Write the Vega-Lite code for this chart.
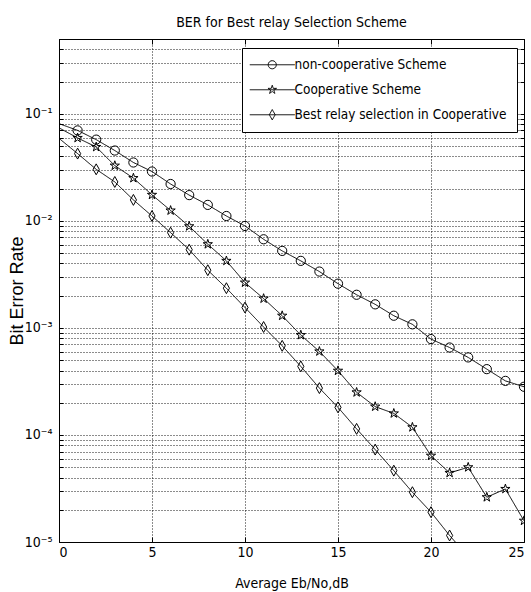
{
  "$schema": "https://vega.github.io/schema/vega-lite/v6.json",
  "width": 465,
  "height": 503,
  "autosize": {"type": "none"},
  "padding": {"left": 59, "top": 39, "right": 7, "bottom": 50},
  "background": "white",
  "title": {"text": "BER for Best relay Selection Scheme", "font": "DejaVu Sans Condensed, Liberation Sans", "fontSize": 14, "fontWeight": "normal", "color": "black", "baseline": "alphabetic", "offset": -2},
  "config": {
    "view": {"stroke": "black", "strokeWidth": 1},
    "axis": {"labelFont": "DejaVu Sans Condensed, Liberation Sans", "labelFontSize": 14, "labelColor": "black", "titleFont": "DejaVu Sans Condensed, Liberation Sans", "titleFontSize": 14, "titleFontWeight": "normal", "titleColor": "black", "domain": false, "tickColor": "black", "gridColor": "black", "gridDash": [1, 2], "gridOpacity": 0.9, "gridWidth": 1}
  },
  "data": {"values": [
    {"x": 0, "ber": 0.081, "scheme": "non-cooperative Scheme"},
    {"x": 1, "ber": 0.070, "scheme": "non-cooperative Scheme"},
    {"x": 2, "ber": 0.0574, "scheme": "non-cooperative Scheme"},
    {"x": 3, "ber": 0.0454, "scheme": "non-cooperative Scheme"},
    {"x": 4, "ber": 0.0351, "scheme": "non-cooperative Scheme"},
    {"x": 5, "ber": 0.0289, "scheme": "non-cooperative Scheme"},
    {"x": 6, "ber": 0.0221, "scheme": "non-cooperative Scheme"},
    {"x": 7, "ber": 0.0174, "scheme": "non-cooperative Scheme"},
    {"x": 8, "ber": 0.0141, "scheme": "non-cooperative Scheme"},
    {"x": 9, "ber": 0.0111, "scheme": "non-cooperative Scheme"},
    {"x": 10, "ber": 0.00896, "scheme": "non-cooperative Scheme"},
    {"x": 11, "ber": 0.00673, "scheme": "non-cooperative Scheme"},
    {"x": 12, "ber": 0.00524, "scheme": "non-cooperative Scheme"},
    {"x": 13, "ber": 0.00423, "scheme": "non-cooperative Scheme"},
    {"x": 14, "ber": 0.00336, "scheme": "non-cooperative Scheme"},
    {"x": 15, "ber": 0.00259, "scheme": "non-cooperative Scheme"},
    {"x": 16, "ber": 0.00204, "scheme": "non-cooperative Scheme"},
    {"x": 17, "ber": 0.00166, "scheme": "non-cooperative Scheme"},
    {"x": 18, "ber": 0.0013, "scheme": "non-cooperative Scheme"},
    {"x": 19, "ber": 0.00108, "scheme": "non-cooperative Scheme"},
    {"x": 20, "ber": 0.000786, "scheme": "non-cooperative Scheme"},
    {"x": 21, "ber": 0.000656, "scheme": "non-cooperative Scheme"},
    {"x": 22, "ber": 0.00053, "scheme": "non-cooperative Scheme"},
    {"x": 23, "ber": 0.000412, "scheme": "non-cooperative Scheme"},
    {"x": 24, "ber": 0.00032, "scheme": "non-cooperative Scheme"},
    {"x": 25, "ber": 0.000282, "scheme": "non-cooperative Scheme"},
    {"x": 0, "ber": 0.074, "scheme": "Cooperative Scheme"},
    {"x": 1, "ber": 0.0595, "scheme": "Cooperative Scheme"},
    {"x": 2, "ber": 0.049, "scheme": "Cooperative Scheme"},
    {"x": 3, "ber": 0.0328, "scheme": "Cooperative Scheme"},
    {"x": 4, "ber": 0.0251, "scheme": "Cooperative Scheme"},
    {"x": 5, "ber": 0.0175, "scheme": "Cooperative Scheme"},
    {"x": 6, "ber": 0.0125, "scheme": "Cooperative Scheme"},
    {"x": 7, "ber": 0.0089, "scheme": "Cooperative Scheme"},
    {"x": 8, "ber": 0.00605, "scheme": "Cooperative Scheme"},
    {"x": 9, "ber": 0.00423, "scheme": "Cooperative Scheme"},
    {"x": 10, "ber": 0.00265, "scheme": "Cooperative Scheme"},
    {"x": 11, "ber": 0.00188, "scheme": "Cooperative Scheme"},
    {"x": 12, "ber": 0.0013, "scheme": "Cooperative Scheme"},
    {"x": 13, "ber": 0.000857, "scheme": "Cooperative Scheme"},
    {"x": 14, "ber": 0.000603, "scheme": "Cooperative Scheme"},
    {"x": 15, "ber": 0.000398, "scheme": "Cooperative Scheme"},
    {"x": 16, "ber": 0.00025, "scheme": "Cooperative Scheme"},
    {"x": 17, "ber": 0.000184, "scheme": "Cooperative Scheme"},
    {"x": 18, "ber": 0.000159, "scheme": "Cooperative Scheme"},
    {"x": 19, "ber": 0.000118, "scheme": "Cooperative Scheme"},
    {"x": 20, "ber": 0.000064, "scheme": "Cooperative Scheme"},
    {"x": 21, "ber": 0.0000442, "scheme": "Cooperative Scheme"},
    {"x": 22, "ber": 0.0000499, "scheme": "Cooperative Scheme"},
    {"x": 23, "ber": 0.0000262, "scheme": "Cooperative Scheme"},
    {"x": 24, "ber": 0.0000313, "scheme": "Cooperative Scheme"},
    {"x": 25, "ber": 0.0000158, "scheme": "Cooperative Scheme"},
    {"x": 0, "ber": 0.059, "scheme": "Best relay selection in Cooperative"},
    {"x": 1, "ber": 0.0425, "scheme": "Best relay selection in Cooperative"},
    {"x": 2, "ber": 0.0303, "scheme": "Best relay selection in Cooperative"},
    {"x": 3, "ber": 0.0231, "scheme": "Best relay selection in Cooperative"},
    {"x": 4, "ber": 0.0157, "scheme": "Best relay selection in Cooperative"},
    {"x": 5, "ber": 0.0111, "scheme": "Best relay selection in Cooperative"},
    {"x": 6, "ber": 0.00776, "scheme": "Best relay selection in Cooperative"},
    {"x": 7, "ber": 0.00538, "scheme": "Best relay selection in Cooperative"},
    {"x": 8, "ber": 0.00346, "scheme": "Best relay selection in Cooperative"},
    {"x": 9, "ber": 0.00235, "scheme": "Best relay selection in Cooperative"},
    {"x": 10, "ber": 0.00155, "scheme": "Best relay selection in Cooperative"},
    {"x": 11, "ber": 0.00102, "scheme": "Best relay selection in Cooperative"},
    {"x": 12, "ber": 0.00068, "scheme": "Best relay selection in Cooperative"},
    {"x": 13, "ber": 0.000437, "scheme": "Best relay selection in Cooperative"},
    {"x": 14, "ber": 0.000274, "scheme": "Best relay selection in Cooperative"},
    {"x": 15, "ber": 0.000181, "scheme": "Best relay selection in Cooperative"},
    {"x": 16, "ber": 0.000114, "scheme": "Best relay selection in Cooperative"},
    {"x": 17, "ber": 0.000073, "scheme": "Best relay selection in Cooperative"},
    {"x": 18, "ber": 0.0000464, "scheme": "Best relay selection in Cooperative"},
    {"x": 19, "ber": 0.0000292, "scheme": "Best relay selection in Cooperative"},
    {"x": 20, "ber": 0.000019, "scheme": "Best relay selection in Cooperative"},
    {"x": 21, "ber": 0.0000115, "scheme": "Best relay selection in Cooperative"},
    {"x": 22, "ber": 0.0000073, "scheme": "Best relay selection in Cooperative"}
  ]},
  "layer": [
    {
      "mark": {"type": "line", "color": "black", "strokeWidth": 1, "clip": true},
      "encoding": {
        "x": {"field": "x", "type": "quantitative", "scale": {"domain": [0, 25], "nice": false},
          "axis": {"orient": "bottom", "values": [0, 5, 10, 15, 20, 25], "format": "d", "title": "Average Eb/No,dB", "titleY": 45, "titleBaseline": "alphabetic", "tickSize": -5, "labelPadding": 8, "grid": true}},
        "y": {"field": "ber", "type": "quantitative", "scale": {"type": "log", "domain": [0.00001, 0.5], "nice": false},
          "axis": {"orient": "left", "title": "Bit Error Rate", "titleFont": "Liberation Sans", "titleFontSize": 18, "titleX": -42, "titleBaseline": "middle", "tickSize": -4, "labelPadding": 11, "grid": true,
            "values": [0.00001, 0.00002, 0.00003, 0.00004, 0.00005, 0.00006, 0.00007, 0.00008, 0.00009, 0.0001, 0.0002, 0.0003, 0.0004, 0.0005, 0.0006, 0.0007, 0.0008, 0.0009, 0.001, 0.002, 0.003, 0.004, 0.005, 0.006, 0.007, 0.008, 0.009, 0.01, 0.02, 0.03, 0.04, 0.05, 0.06, 0.07, 0.08, 0.09, 0.1, 0.2, 0.3, 0.4, 0.5],
            "labelExpr": "abs(datum.value - 0.1) < 1e-9 ? '10⁻¹' : abs(datum.value - 0.01) < 1e-10 ? '10⁻²' : abs(datum.value - 0.001) < 1e-11 ? '10⁻³' : abs(datum.value - 0.0001) < 1e-12 ? '10⁻⁴' : abs(datum.value - 0.00001) < 1e-13 ? '10⁻⁵' : ''"}},
        "strokeDash": {"field": "scheme", "type": "nominal",
          "scale": {"domain": ["non-cooperative Scheme", "Cooperative Scheme", "Best relay selection in Cooperative"], "range": [[1, 0], [1, 0], [1, 0]]},
          "legend": {"orient": "none", "legendX": 183, "legendY": 9, "title": null, "padding": 10, "rowPadding": 10, "symbolSize": 81, "symbolStrokeColor": "black", "symbolFillColor": "transparent", "symbolStrokeWidth": 1, "labelFont": "DejaVu Sans Condensed, Liberation Sans", "labelFontSize": 13.5, "labelColor": "black", "labelOffset": 29, "labelLimit": 400, "strokeColor": "black", "fillColor": "white", "cornerRadius": 0,
            "encode": {"symbols": {"update": {"shape": {"signal": "datum.value == 'non-cooperative Scheme' ? 'M-2,0L8,0M2.1,0A0.9,0.9 0 1,1 3.9,0A0.9,0.9 0 1,1 2.1,0' : datum.value == 'Cooperative Scheme' ? 'M-2,0L8,0M3,-1L3.2245,-0.309L3.951,-0.309L3.363,0.118L3.588,0.809L3,0.382L2.412,0.809L2.637,0.118L2.049,-0.309L2.7755,-0.309Z' : 'M-2,0L8,0M3,-1.15L3.65,0L3,1.15L2.35,0Z'"}, "fill": {"value": "transparent"}, "stroke": {"value": "black"}}}}}
        }
      }
    },
    {
      "transform": [{"filter": "datum.x >= 1 && datum.scheme == 'non-cooperative Scheme'"}],
      "mark": {"type": "point", "shape": "circle", "filled": false, "color": "black", "strokeWidth": 1, "opacity": 1, "size": 85, "clip": true},
      "encoding": {
        "x": {"field": "x", "type": "quantitative", "axis": {"orient": "top", "values": [0, 5, 10, 15, 20, 25], "labels": false, "title": null, "tickSize": -5, "grid": false, "minExtent": 0, "maxExtent": 0}},
        "y": {"field": "ber", "type": "quantitative", "axis": {"orient": "right", "labels": false, "title": null, "tickSize": -4, "grid": false, "minExtent": 0, "maxExtent": 0,
            "values": [0.00001, 0.00002, 0.00003, 0.00004, 0.00005, 0.00006, 0.00007, 0.00008, 0.00009, 0.0001, 0.0002, 0.0003, 0.0004, 0.0005, 0.0006, 0.0007, 0.0008, 0.0009, 0.001, 0.002, 0.003, 0.004, 0.005, 0.006, 0.007, 0.008, 0.009, 0.01, 0.02, 0.03, 0.04, 0.05, 0.06, 0.07, 0.08, 0.09, 0.1, 0.2, 0.3, 0.4, 0.5]}}
      }
    },
    {
      "transform": [{"filter": "datum.x >= 1 && datum.scheme == 'Cooperative Scheme'"}],
      "mark": {"type": "point", "shape": "M0,-1L0.2245,-0.309L0.951,-0.309L0.363,0.118L0.588,0.809L0,0.382L-0.588,0.809L-0.363,0.118L-0.951,-0.309L-0.2245,-0.309Z", "filled": false, "color": "black", "strokeWidth": 1, "opacity": 1, "size": 95, "clip": true},
      "encoding": {
        "x": {"field": "x", "type": "quantitative", "axis": null},
        "y": {"field": "ber", "type": "quantitative", "axis": null}
      }
    },
    {
      "transform": [{"filter": "datum.x >= 1 && datum.scheme == 'Best relay selection in Cooperative'"}],
      "mark": {"type": "point", "shape": "M0,-1.15L0.65,0L0,1.15L-0.65,0Z", "filled": false, "color": "black", "strokeWidth": 1, "opacity": 1, "size": 90, "clip": true},
      "encoding": {
        "x": {"field": "x", "type": "quantitative", "axis": null},
        "y": {"field": "ber", "type": "quantitative", "axis": null}
      }
    }
  ],
  "resolve": {"axis": {"x": "independent", "y": "independent"}}
}
